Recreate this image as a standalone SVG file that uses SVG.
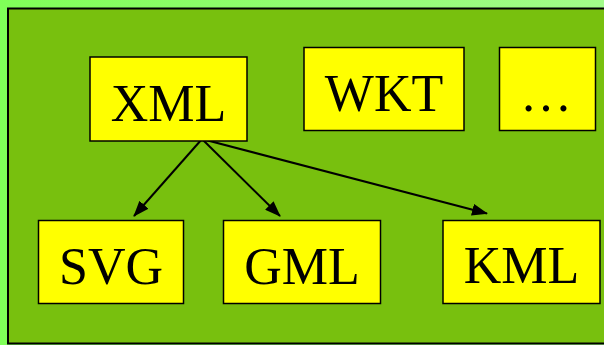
<svg xmlns="http://www.w3.org/2000/svg" width="604" height="345" viewBox="0 0 604 345">
<defs>
<linearGradient id="bg" x1="0" y1="0" x2="1" y2="0">
<stop offset="0" stop-color="#80ff58"/>
<stop offset="1" stop-color="#a2fc8a"/>
</linearGradient>
<marker id="ah" viewBox="0 0 16 12" refX="15" refY="6" markerWidth="16" markerHeight="12" markerUnits="userSpaceOnUse" orient="auto">
<path d="M0,0 L16,6 L0,12 z" fill="#000"/>
</marker>
<style>
.box{fill:#ffff00;stroke:#000;stroke-width:1.5}
.lbl{font-family:"Liberation Serif","Times New Roman",serif;font-size:52px;fill:#000;text-anchor:middle}
.edge{stroke:#000;stroke-width:2;fill:none}
</style>
</defs>
<rect x="0" y="0" width="604" height="345" fill="url(#bg)"/>
<rect x="8" y="8.5" width="600" height="335" fill="#78c00e" stroke="#000" stroke-width="2"/>
<g id="connectors">
<line class="edge" x1="202" y1="139" x2="134" y2="216" marker-end="url(#ah)"/>
<line class="edge" x1="202" y1="139" x2="280" y2="216" marker-end="url(#ah)"/>
<line class="edge" x1="202" y1="139" x2="487" y2="213.5" marker-end="url(#ah)"/>
</g>
<g id="xml"><rect class="box" x="90" y="57" width="157" height="84"/><text class="lbl" x="168.5" y="121">XML</text></g>
<g id="wkt"><rect class="box" x="304" y="47.5" width="160" height="83"/><text class="lbl" x="384" y="111">WKT</text></g>
<g id="more"><rect class="box" x="499.5" y="47.5" width="96" height="83"/><text class="lbl" x="546" y="111">…</text></g>
<g id="svg"><rect class="box" x="38.5" y="220.5" width="145" height="83"/><text class="lbl" x="111" y="283.5">SVG</text></g>
<g id="gml"><rect class="box" x="223.5" y="220.5" width="157" height="83"/><text class="lbl" x="302" y="283.5">GML</text></g>
<g id="kml"><rect class="box" x="443" y="220.5" width="157" height="83"/><text class="lbl" x="521.5" y="283">KML</text></g>
</svg>
